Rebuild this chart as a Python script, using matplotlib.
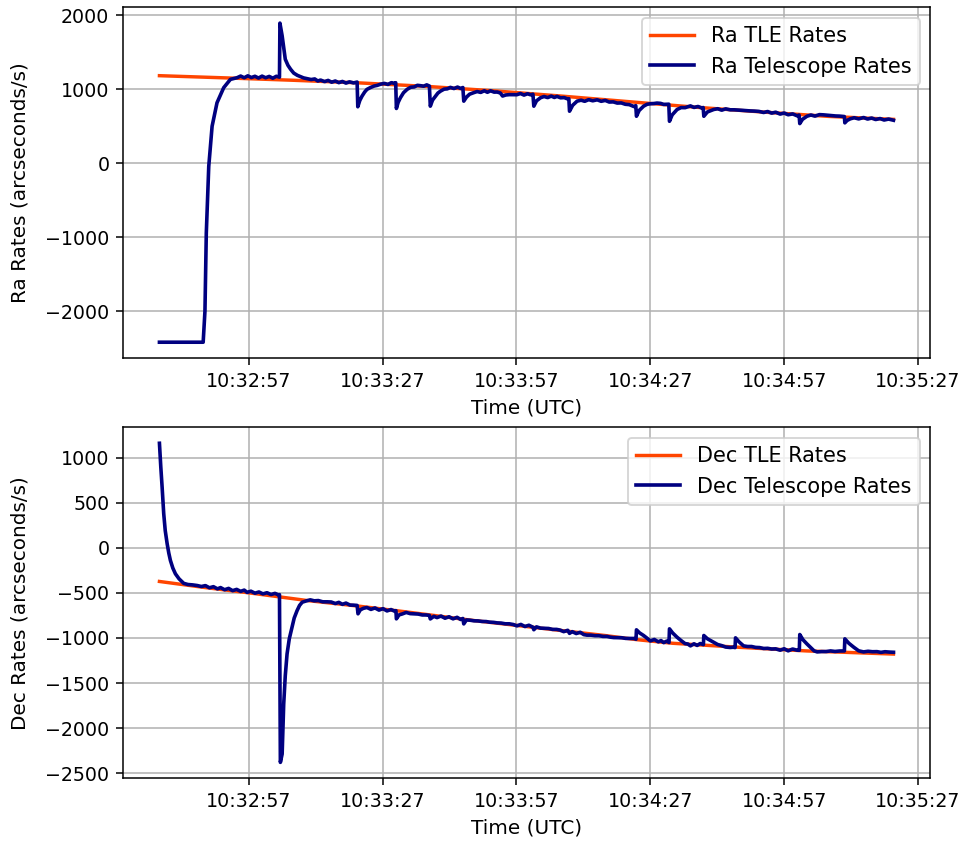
import datetime as dt
import matplotlib
matplotlib.use('Agg')
import matplotlib.pyplot as plt
import matplotlib.dates as mdates

# seconds after 10:32:37 UTC
start = dt.datetime(2020, 1, 1, 10, 32, 37)

# TLE predicted rates
ra_tle_t = [0, 15, 30, 45, 60, 75, 90, 105, 120, 135, 150, 164.5]
ra_tle_v = [1180, 1150, 1118, 1082, 1035, 975, 905, 830, 755, 690, 630, 590]

dec_tle_t = [0, 10, 20, 33, 45, 55, 70, 85, 100, 107, 115, 130, 145, 164.5]
dec_tle_v = [-374, -440, -500, -585, -650, -710, -805, -890, -975, -1020, -1060, -1105, -1145, -1180]

# telescope measured rates
ra_tel_t = [0, 4, 9.8, 10.2, 10.5, 11.05, 11.8, 12.9, 14.4, 15.9, 17.4,
            18.2, 19.0, 19.8, 20.6, 21.4, 22.2, 23.0, 23.8, 24.6, 25.4, 26.2, 26.9,
            27.0, 27.5, 28.2, 28.8, 29.4, 30.1, 30.9, 31.6, 32.3, 33.1, 34.0, 34.8, 35.5, 36.1,
            37.0, 37.8, 38.6, 39.4, 40.2, 41.0, 41.8, 42.6, 43.5, 44.3,
            44.45, 44.9, 45.4, 46.0, 46.5, 47.3, 48.1, 48.8, 49.6, 50.4, 51.2, 52.0, 52.8, 52.95,
            53.1, 53.5, 54.0, 54.7, 55.5, 56.3, 57.1, 57.8, 58.5, 59.2, 59.9, 60.5,
            60.7, 61.2, 61.9, 62.4, 63.0, 63.8, 64.5, 65.2, 66.0, 66.8, 67.5, 68.0,
            68.2, 68.8, 69.5, 70.4, 71.2, 72.0, 72.8, 73.5, 74.2, 75.0, 75.7, 76.4, 76.9,
            77.6, 78.4, 79.2, 80.1, 80.9, 81.7, 82.5, 83.2, 83.7,
            83.9, 84.5, 85.4, 86.2, 87.0, 87.8, 88.5, 89.1, 89.9, 90.7, 91.4, 91.75,
            91.9, 92.6, 93.6, 94.5, 95.3, 96.2, 97.1, 98.1, 99.0, 99.9, 100.8, 101.7, 102.6,
            103.5, 104.4, 105.3, 106.3, 106.75,
            106.9, 107.5, 108.5, 109.3, 110.1, 110.8, 111.5, 112.3, 113.0, 113.8, 114.15,
            114.3, 114.9, 116.0, 116.9, 117.8, 119.0, 119.8, 120.7, 121.6, 121.85,
            122.0, 122.8, 124.2, 125.1, 126.0, 126.9, 127.9, 128.8, 129.7, 130.6, 131.5, 132.4,
            133.3, 134.3, 135.4, 136.3, 137.2, 138.1, 139.1, 140.0, 140.9, 141.9, 142.9, 143.35,
            143.5, 144.1, 145.1, 146.0, 146.9, 147.9, 148.8, 149.7, 150.6, 151.5, 152.4, 153.3, 153.5,
            153.6, 154.1, 154.8, 155.7, 156.7, 157.8, 158.7, 159.6, 160.5, 161.5, 162.4, 163.4, 164.5]
ra_tel_v = [-2420, -2420, -2420, -2000, -949, -46, 497, 814, 1018, 1130, 1153,
            1175, 1152, 1178, 1155, 1172, 1148, 1174, 1152, 1170, 1146, 1172, 1160,
            1890, 1718, 1402, 1320, 1266, 1215, 1185, 1168, 1150, 1140, 1128, 1136, 1108, 1121,
            1100, 1116, 1092, 1108, 1086, 1102, 1080, 1097, 1082, 1094,
            760, 845, 904, 960, 995, 1020, 1040, 1049, 1066, 1076, 1062, 1086, 1074, 1085,
            737, 820, 882, 950, 995, 1024, 1028, 1050, 1045, 1038, 1056, 1040,
            768, 850, 904, 945, 972, 998, 1002, 1022, 1006, 1026, 1008, 1020,
            836, 890, 930, 950, 966, 954, 976, 956, 976, 958, 959, 946, 905,
            919, 924, 924, 923, 939, 918, 936, 921, 930,
            768, 840, 882, 899, 884, 904, 886, 900, 881, 884, 868, 869,
            700, 780, 836, 849, 834, 856, 841, 854, 834, 846, 824, 826, 810,
            812, 794, 789, 764, 775,
            632, 710, 768, 794, 801, 804, 810, 806, 792, 795, 795,
            564, 650, 723, 749, 748, 772, 751, 764, 742, 750,
            632, 690, 723, 734, 714, 732, 719, 719, 716, 712, 708, 704,
            702, 698, 683, 696, 674, 687, 661, 676, 652, 664, 638, 648,
            533, 590, 632, 649, 634, 654, 651, 646, 642, 636, 634, 628, 628,
            543, 575, 597, 612, 596, 615, 594, 608, 588, 601, 581, 594, 578]

dec_tel_t = [0, 0.3, 0.6, 0.96, 1.3, 1.73, 2.1, 2.46, 3.0, 3.58, 4.4, 5.44, 6.4, 7.4, 8.45,
             9.4, 10.3, 11.2, 12.1, 13.0, 13.7, 14.6, 15.5, 16.4, 17.3, 18.2, 19.0, 19.65,
             20.5, 21.4, 22.3, 23.2, 24.1, 25.0, 25.9, 26.7, 26.9,
             27.1, 27.5, 27.85, 28.2, 28.6, 29.1, 29.7, 30.2, 30.85, 31.4, 32.0, 32.9, 33.8,
             34.7, 35.6, 36.6, 37.6, 38.5, 39.4, 40.2, 41.0, 41.8, 42.7, 43.5, 44.3,
             44.5, 45.0, 45.7, 46.5, 47.4, 48.3, 49.2, 50.1, 51.0, 51.9, 52.8, 53.0,
             53.1, 53.7, 54.4, 55.3, 56.2, 57.1, 58.0, 58.9, 59.8, 60.5,
             60.7, 61.5, 62.2, 63.1, 64.0, 64.9, 65.8, 66.7, 67.5, 68.0,
             68.2, 68.8, 69.6, 70.5, 71.4, 72.3, 73.2, 74.0, 74.9, 75.7, 76.6, 77.5, 78.4,
             79.3, 80.1, 81.0, 81.9, 82.8, 83.7,
             83.9, 84.5, 85.4, 86.3, 87.2, 88.1, 89.0, 89.8, 90.6, 91.5,
             91.9, 92.5, 93.4, 94.3, 95.1, 95.8, 96.7, 97.6, 98.5, 99.4, 100.3, 101.0, 101.8,
             102.7, 103.6, 104.5, 105.4, 106.3, 106.8,
             106.9, 107.6, 108.5, 109.2, 110.0, 110.9, 111.8, 112.4, 113.0, 113.7, 114.2,
             114.3, 115.0, 116.0, 116.9, 117.8, 118.4, 119.0, 119.8, 120.5, 121.2, 121.9,
             122.0, 122.8, 124.2, 125.1, 126.0, 126.9, 127.9, 128.6, 129.0,
             129.1, 129.9, 130.9, 131.8, 132.7, 133.6, 134.5, 135.4, 136.3, 137.2, 138.1,
             139.1, 140.0, 140.9, 141.9, 142.9, 143.4,
             143.5, 144.2, 145.1, 146.0, 146.7, 147.4, 148.4, 149.4, 150.4, 151.4, 152.4, 153.3, 153.5,
             153.6, 154.5, 155.6, 156.7, 157.8, 158.8, 159.8, 160.8, 161.7, 162.6, 163.6, 164.5]
dec_tel_v = [1160, 900, 673, 378, 190, 44, -60, -141, -225, -289, -345, -395, -408, -412, -419,
             -430, -420, -444, -432, -456, -442, -466, -451, -476, -462, -484, -470, -495,
             -482, -504, -491, -512, -499, -519, -506, -524, -520,
             -2382, -2289, -1733, -1420, -1178, -1010, -882, -780, -697, -640, -604, -590, -578,
             -589, -586, -600, -600, -602, -619, -606, -628, -614, -636, -637, -640,
             -733, -690, -672, -663, -684, -668, -692, -676, -701, -686, -706, -698,
             -789, -745, -735, -718, -731, -734, -736, -746, -746, -751,
             -790, -761, -775, -758, -782, -766, -789, -772, -796, -785,
             -845, -801, -804, -811, -812, -818, -819, -826, -828, -834, -836, -844, -844,
             -852, -867, -851, -874, -860, -882,
             -910, -878, -892, -894, -896, -906, -906, -914, -931, -916,
             -950, -931, -952, -938, -964, -970, -970, -976, -976, -984, -984, -992, -997,
             -998, -999, -1006, -1007, -1007, -1015,
             -911, -945, -974, -1001, -1034, -1018, -1044, -1030, -1053, -1036, -1052,
             -900, -945, -993, -1030, -1064, -1068, -1089, -1066, -1084, -1063, -1075,
             -974, -1010, -1049, -1074, -1086, -1102, -1107, -1104, -1108,
             -1000, -1045, -1089, -1096, -1096, -1106, -1108, -1118, -1116, -1124, -1122,
             -1137, -1121, -1144, -1124, -1137, -1138,
             -963, -1020, -1067, -1110, -1144, -1156, -1152, -1152, -1145, -1151, -1146, -1145, -1145,
             -1011, -1060, -1104, -1144, -1156, -1149, -1154, -1153, -1161, -1154, -1158, -1160]


def to_time(secs):
    return [start + dt.timedelta(seconds=s) for s in secs]


fig, (ax1, ax2) = plt.subplots(2, 1, figsize=(7.06, 6.176), dpi=137)
fig.subplots_adjust(left=0.1269, right=0.9617, top=0.9914, bottom=0.0800, hspace=0.197)

panels = [
    (ax1, 'Ra', ra_tle_t, ra_tle_v, ra_tel_t, ra_tel_v),
    (ax2, 'Dec', dec_tle_t, dec_tle_v, dec_tel_t, dec_tel_v),
]
for ax, name, tt, tv, mt, mv in panels:
    ax.plot(to_time(tt), tv, color='orangered', linewidth=1.8, label=name + ' TLE Rates')
    ax.plot(to_time(mt), mv, color='navy', linewidth=1.9, label=name + ' Telescope Rates')
    ax.set_ylabel(name + ' Rates (arcseconds/s)', fontsize=10.5, labelpad=8)
    ax.set_xlabel('Time (UTC)', fontsize=10.5)
    ax.xaxis.set_major_locator(mdates.SecondLocator(bysecond=[27, 57]))
    ax.xaxis.set_major_formatter(mdates.DateFormatter('%H:%M:%S'))
    ax.grid(True)
    ax.legend(loc='upper right', fontsize=11, handlelength=2.1)

fig.savefig('out.png', dpi=137)
